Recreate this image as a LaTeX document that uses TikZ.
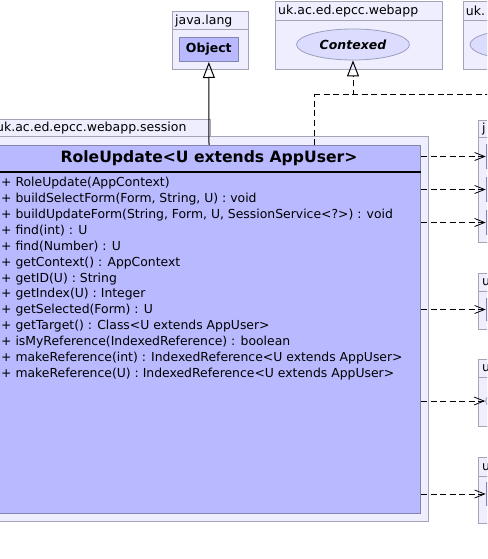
\documentclass[tikz,border=0pt]{standalone}
\usepackage{fontspec}
\setmainfont{DejaVu Sans}
\usetikzlibrary{arrows.meta,positioning,shapes.geometric}
\definecolor{Ink}{HTML}{000000}
\definecolor{PackageFill}{HTML}{EEEEFF}
\definecolor{PackageLine}{HTML}{A4A4B8}
\definecolor{ClassFill}{HTML}{B9B9FF}
\definecolor{ClassLine}{HTML}{8484B0}
\definecolor{InterfaceFill}{HTML}{DCDCFF}
\tikzset{
  package tab/.style={draw=PackageLine, fill=PackageFill, anchor=north west,
    inner sep=0pt, line width=1pt},
  package body/.style={draw=PackageLine, fill=PackageFill, anchor=north west,
    inner sep=0pt, line width=1pt},
  package label/.style={anchor=west, inner sep=0pt, text=Ink,
    font=\fontsize{12.5}{14}\selectfont},
  class box/.style={draw=ClassLine, fill=ClassFill, anchor=north west,
    inner sep=0pt, line width=1pt, font=\bfseries\fontsize{12.5}{14}\selectfont},
  interface oval/.style={ellipse, draw=ClassLine!80!white, fill=InterfaceFill,
    inner sep=0pt, line width=0.8pt, minimum width=113pt, minimum height=31pt,
    font=\bfseries\itshape\fontsize{12.5}{14}\selectfont},
  class title/.style={font=\bfseries\fontsize{15.6}{17}\selectfont, inner sep=0pt},
  member list/.style={anchor=north west, align=left, inner sep=0pt,
    font=\fontsize{12.4}{15.9}\selectfont},
  generalize/.style={-{Triangle[open,length=16pt,width=12pt]}, draw=Ink, line width=1pt},
  realize/.style={draw=Ink, line width=1pt, dash pattern=on 6pt off 3.5pt},
  depend/.style={-{Straight Barb[length=10pt,width=8pt]}, draw=Ink, line width=0.8pt,
    dash pattern=on 6pt off 3.5pt},
}

\begin{document}
\begin{tikzpicture}[x=1pt, y=-1pt]
  \useasboundingbox (0,0) rectangle (487,559);
  \clip (0,0) rectangle (487,559);

  % Supertypes along the top.
  \node[package tab, minimum width=76pt, minimum height=18.5pt] (langTab) at (172,11) {};
  \node[package label] (langLabel) at ([xshift=3pt]langTab.west) {java.lang};
  \node[package body, minimum width=76pt, minimum height=39.5pt] (lang) at (172,29.5) {};
  \node[class box, minimum width=58.7pt, minimum height=24pt] (object) at (179,37) {Object};

  \node[package tab, minimum width=167pt, minimum height=18.5pt] (webappTab) at (275,1.5) {};
  \node[package label] (webappLabel) at ([xshift=3pt]webappTab.west) {uk.ac.ed.epcc.webapp};
  \node[package body, minimum width=167pt, minimum height=49pt] (webapp) at (275,20) {};
  \node[interface oval] (contexed) at (353,44.5) {Contexed};

  \node[package tab, minimum width=167pt, minimum height=18.5pt] (otherTab) at (462.7,1.5) {};
  \node[package label] (otherLabel) at ([xshift=3pt]otherTab.west) {uk.};
  \node[package body, minimum width=167pt, minimum height=49pt] (other) at (462.7,20) {};
  \node[interface oval] (otherIf) at (526.5,44.5) {};

  % The session package and its class.
  \node[package tab, minimum width=218pt, minimum height=17pt] (sessionTab) at (-8,119) {};
  \node[package label] (sessionLabel) at ([xshift=4pt]sessionTab.west) {uk.ac.ed.epcc.webapp.session};
  \node[package body, minimum width=436pt, minimum height=385pt] (session) at (-8,136) {};
  \node[class box, minimum width=423pt, minimum height=368pt] (roleUpdate) at (-3,145) {};
  \node[class title] (roleTitle) at ([yshift=-13pt]roleUpdate.north) {RoleUpdate<U extends AppUser>};
  \draw[Ink, line width=2pt]
    ([yshift=-26.7pt]roleUpdate.north west) -- ([yshift=-26.7pt]roleUpdate.north east);
  \node[member list] (roleMembers) at (1,177) {%
    + RoleUpdate(AppContext)\\
    + buildSelectForm(Form, String, U) : void\\
    + buildUpdateForm(String, Form, U, SessionService<?>) : void\\
    + find(int) : U\\
    + find(Number) : U\\
    + getContext() : AppContext\\
    + getID(U) : String\\
    + getIndex(U) : Integer\\
    + getSelected(Form) : U\\
    + getTarget() : Class<U extends AppUser>\\
    + isMyReference(IndexedReference) : boolean\\
    + makeReference(int) : IndexedReference<U extends AppUser>\\
    + makeReference(U) : IndexedReference<U extends AppUser>};

  % Packages on the right, cut by the page edge.
  \node[package tab, minimum width=120pt, minimum height=16.5pt] (usedTab) at (478,120) {};
  \node[package label] (usedLabel) at ([xshift=4pt]usedTab.west) {j};
  \node[package body, minimum width=120pt, minimum height=105.5pt] (used) at (478,136.5) {};
  \node[class box, minimum width=100pt, minimum height=24pt] (usedA) at (485.7,144) {};
  \node[class box, minimum width=100pt, minimum height=24pt] (usedB) at (485.7,177) {};
  \node[class box, minimum width=100pt, minimum height=24pt] (usedC) at (485.7,210) {};

  \node[package tab, minimum width=120pt, minimum height=18pt] (formTab) at (478,272.7) {};
  \node[package label] (formLabel) at ([xshift=4pt]formTab.west) {u};
  \node[package body, minimum width=120pt, minimum height=38.3pt] (form) at (478,290.7) {};
  \node[class box, minimum width=100pt, minimum height=22pt] (formA) at (485.7,298) {};

  \node[package tab, minimum width=120pt, minimum height=18pt] (indexTab) at (478,359) {};
  \node[package label] (indexLabel) at ([xshift=4pt]indexTab.west) {u};
  \node[package body, minimum width=120pt, minimum height=49pt] (index) at (478,377) {};
  \node[interface oval] (indexIf) at (542,401) {};

  \node[package tab, minimum width=120pt, minimum height=18.7pt] (userTab) at (478,457.3) {};
  \node[package label] (userLabel) at ([xshift=4pt]userTab.west) {u};
  \node[package body, minimum width=120pt, minimum height=47pt] (user) at (478,476) {};
  \node[class box, minimum width=100pt, minimum height=23pt] (userA) at (485.7,482) {};

  % Inheritance and realization.
  \draw[generalize] (roleUpdate.north) -- (object.south);
  \coordinate (fork) at (314,95);
  \draw[realize] (roleUpdate.north -| fork) -- (fork);
  \draw[realize, -{Triangle[open,length=16pt,width=12pt]}] (fork) -| (contexed.south);
  \draw[realize, -{Triangle[open,length=16pt,width=12pt]}] (fork) -| (otherIf.south);

  % Dependencies.
  \draw[depend] (roleUpdate.east |- usedA.west) -- (usedA.west);
  \draw[depend] (roleUpdate.east |- usedB.west) -- (usedB.west);
  \draw[depend] (roleUpdate.east |- usedC.west) -- (usedC.west);
  \draw[depend] (roleUpdate.east |- formA.west) -- (formA.west);
  \draw[depend] (roleUpdate.east |- indexIf.west) -- (indexIf.west);
  \draw[depend] (roleUpdate.east |- userA.west) -- (userA.west);
\end{tikzpicture}
\end{document}
